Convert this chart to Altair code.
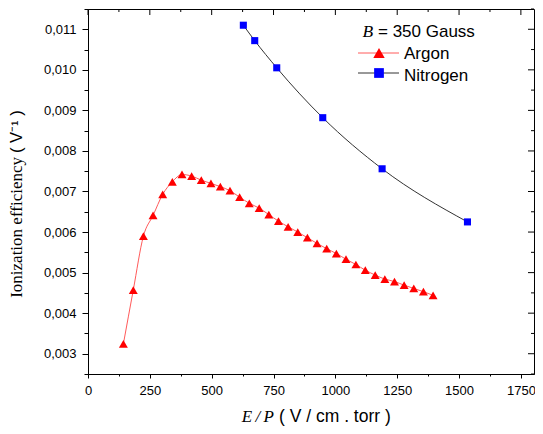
import altair as alt
import pandas as pd

# ---- data ----
argon_ep = [143, 183, 224, 263, 302, 341, 380, 419, 458, 497, 535, 574, 613, 652,
            692, 731, 770, 809, 848, 887, 926, 965, 1004, 1043, 1083, 1121, 1161,
            1200, 1239, 1278, 1317, 1356, 1395]
argon_eff = [0.00324, 0.00457, 0.00590, 0.00641, 0.00693, 0.00724, 0.00742, 0.00738,
             0.00728, 0.00720, 0.00712, 0.00702, 0.00686, 0.00671, 0.00659, 0.00643,
             0.00627, 0.00613, 0.00600, 0.00586, 0.00572, 0.00559, 0.00547, 0.00533,
             0.00520, 0.00506, 0.00494, 0.00484, 0.00478, 0.00469, 0.00461, 0.00453,
             0.00444]
nitrogen_ep = [628, 674, 763, 949, 1189, 1534]
nitrogen_eff = [0.01110, 0.01072, 0.01005, 0.00882, 0.00756, 0.00625]

x_major = [0, 250, 500, 750, 1000, 1250, 1500, 1750]
x_minor = [125, 375, 625, 875, 1125, 1375, 1625]
y_major = [0.003, 0.004, 0.005, 0.006, 0.007, 0.008, 0.009, 0.010, 0.011]
y_minor = [0.0025, 0.0035, 0.0045, 0.0055, 0.0065, 0.0075, 0.0085, 0.0095, 0.0105, 0.0115]

df_ar = pd.DataFrame({"ep": argon_ep, "eff": argon_eff})
df_n = pd.DataFrame({"ep": nitrogen_ep, "eff": nitrogen_eff})

W, H = 446, 365
SANS = "Liberation Sans"
SERIF = "Liberation Serif"

xs = alt.Scale(domain=[0, 1803], nice=False, zero=False)
ys = alt.Scale(domain=[0.0025, 0.0115], nice=False, zero=False)

x_minor_test = "datum.value % 250 !== 0"
y_minor_test = "abs(datum.value*1000 - round(datum.value*1000)) > 0.01"

x_axis = alt.Axis(
    values=sorted(x_major + x_minor), title=None, grid=False,
    labelExpr="datum.value % 250 === 0 ? format(datum.value, 'd') : ''",
    labelFont=SANS, labelFontSize=13, labelColor="black", labelPadding=6,
    labelOverlap=False, labelFlush=False,
    tickSize=4, tickColor="black", tickWidth=1,
    tickDash={"condition": {"test": x_minor_test, "value": [2, 20]}, "value": [20, 0]},
    domainColor="black", domainWidth=1,
)
y_axis = alt.Axis(
    values=sorted(y_major + y_minor), title=None, grid=False,
    labelExpr=("abs(datum.value*1000 - round(datum.value*1000)) < 0.01 ? "
               "replace(format(datum.value, '.3f'), '.', ',') : ''"),
    labelFont=SANS, labelFontSize=13, labelColor="black", labelPadding=6,
    labelOverlap=False, labelFlush=False,
    tickSize=6, tickColor="black", tickWidth=1,
    tickDash={"condition": {"test": y_minor_test, "value": [4, 20]}, "value": [20, 0]},
    domainColor="black", domainWidth=1,
)

ar_line = alt.Chart(df_ar).mark_line(color="#ff5a5a", strokeWidth=1, interpolate="monotone").encode(
    x=alt.X("ep:Q", scale=xs, axis=x_axis),
    y=alt.Y("eff:Q", scale=ys, axis=y_axis),
)
ar_pts = alt.Chart(df_ar).mark_point(shape="triangle-up", filled=True, color="#ff0000",
                                     opacity=1, size=80).encode(
    x=alt.X("ep:Q", scale=xs, axis=None),
    y=alt.Y("eff:Q", scale=ys, axis=None),
)
n_line = alt.Chart(df_n).mark_line(color="#333333", strokeWidth=1, interpolate="monotone").encode(
    x=alt.X("ep:Q", scale=xs, axis=None),
    y=alt.Y("eff:Q", scale=ys, axis=None),
)
n_pts = alt.Chart(df_n).mark_point(shape="square", filled=True, color="#0000ff",
                                   opacity=1, size=50).encode(
    x=alt.X("ep:Q", scale=xs, axis=None),
    y=alt.Y("eff:Q", scale=ys, axis=None),
)


# mirror ticks (inward) on the top and right frame
def top_ticks(vals, length):
    return alt.Chart(pd.DataFrame({"v": vals})).mark_rule(color="black", strokeWidth=1).encode(
        x=alt.X("v:Q", scale=xs, axis=None), y=alt.value(0), y2=alt.value(length))


def right_ticks(vals, length):
    return alt.Chart(pd.DataFrame({"v": vals})).mark_rule(color="black", strokeWidth=1).encode(
        y=alt.Y("v:Q", scale=ys, axis=None), x=alt.value(W), x2=alt.value(W - length))


def txt(s, x, y, font=SANS, size=16.5, style="normal", align="left", angle=0):
    return alt.Chart(pd.DataFrame({"t": [s]})).mark_text(
        font=font, fontSize=size, fontStyle=style, align=align, baseline="alphabetic",
        angle=angle, color="black",
    ).encode(text="t:N", x=alt.value(x), y=alt.value(y))


one = pd.DataFrame({"k": [0]})
leg_ar_line = alt.Chart(one).mark_rule(color="#ff5a5a", strokeWidth=1).encode(
    x=alt.value(270), x2=alt.value(311), y=alt.value(44))
leg_ar_pt = alt.Chart(one).mark_point(shape="triangle-up", filled=True, color="#ff0000",
                                      opacity=1, size=130).encode(x=alt.value(291), y=alt.value(44))
leg_n_line = alt.Chart(one).mark_rule(color="#333333", strokeWidth=1).encode(
    x=alt.value(270), x2=alt.value(311), y=alt.value(64))
leg_n_pt = alt.Chart(one).mark_point(shape="square", filled=True, color="#0000ff",
                                     opacity=1, size=95).encode(x=alt.value(291), y=alt.value(64))

layers = [
    ar_line, n_line, ar_pts, n_pts,
    top_ticks(x_major, 6), top_ticks(x_minor, 3),
    right_ticks(y_major, 6), right_ticks(y_minor, 3),
    leg_ar_line, leg_ar_pt, leg_n_line, leg_n_pt,
    txt("B", 274.5, 28, font=SERIF, size=17.5, style="italic"),
    txt("= 350 Gauss", 290, 28, size=17),
    txt("Argon", 316, 50, size=17),
    txt("Nitrogen", 316, 71.5, size=17),
    txt("E\u2009/\u2009P", 186, 413, font=SERIF, size=17, style="italic", align="right"),
    txt("( V / cm . torr )", 191, 413, size=17.5),
    txt("Ionization efficiency", -66, 148, font=SERIF, size=17, align="right", angle=270),
    txt("( V\u207b\u00b9 )", -66, 144, align="left", angle=270),
]

chart = alt.layer(*layers).resolve_axis(x="independent", y="independent").properties(
    width=W, height=H,
    autosize=alt.AutoSizeParams(type="none"),
    padding={"left": 80, "top": 1, "right": 1, "bottom": 58},
).configure_view(stroke="black", strokeWidth=1).configure_axis(grid=False)

chart.save("out.html", embed_options={"renderer": "svg", "actions": False})
